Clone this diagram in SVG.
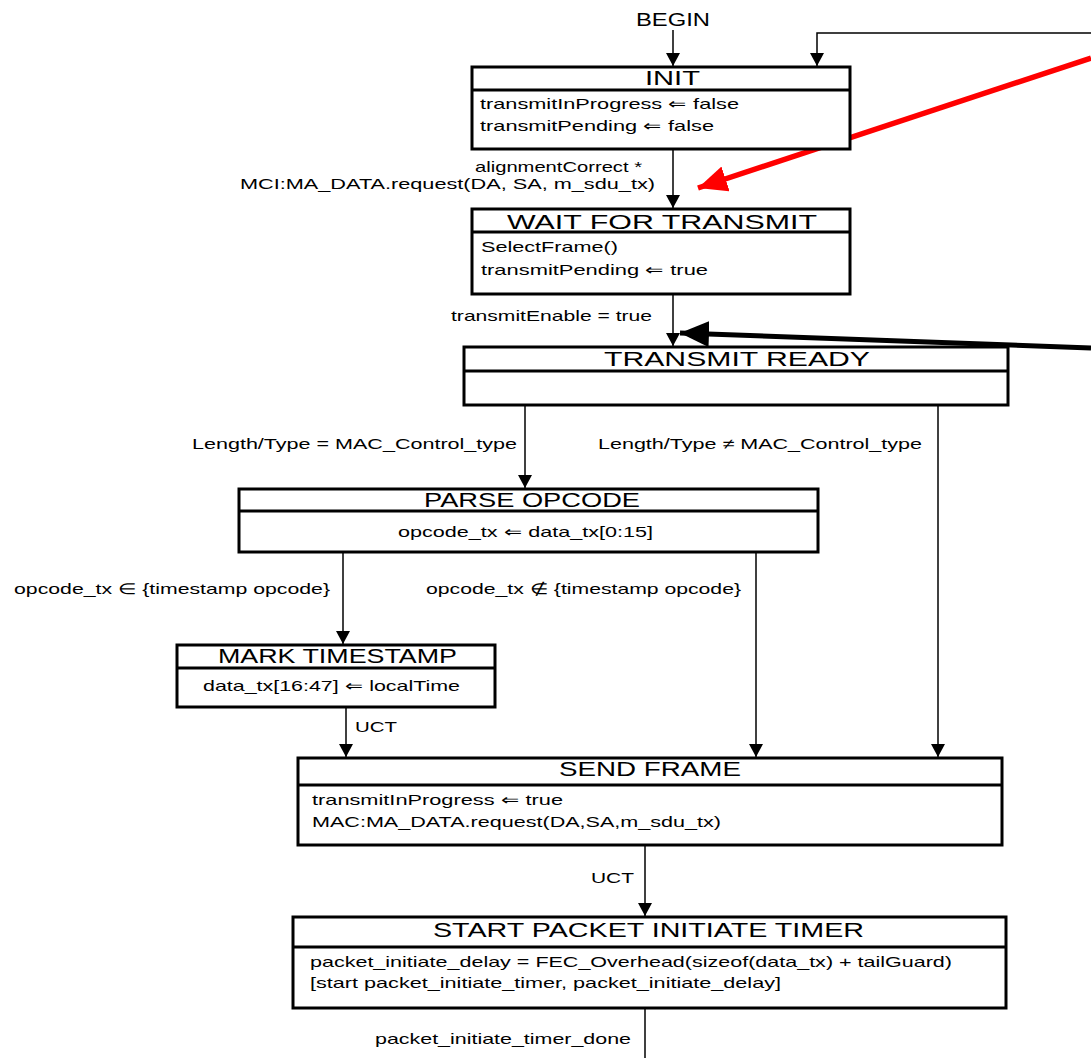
<svg xmlns="http://www.w3.org/2000/svg" width="1091" height="1058" viewBox="0 0 1091 1058">
<style>
text{font-family:"Liberation Sans",Arial,sans-serif;fill:#000}
.t{font-size:20px}
.b{font-size:15px}
.box{fill:#fff;stroke:#000;stroke-width:3}
.div{stroke:#000;stroke-width:3}
.c{fill:none;stroke:#000;stroke-width:1.5}
</style>
<defs>
<marker id="ah" markerUnits="userSpaceOnUse" markerWidth="14" markerHeight="14" refX="13" refY="7" orient="auto">
<path d="M0,0 L13,7 L0,14 Z" fill="#000"/>
</marker>
<marker id="bigk" markerUnits="userSpaceOnUse" markerWidth="30" markerHeight="26" refX="29" refY="13" orient="auto">
<path d="M0,0 L29,13 L0,26 Z" fill="#000"/>
</marker>
<marker id="bigr" markerUnits="userSpaceOnUse" markerWidth="30" markerHeight="26" refX="29" refY="13" orient="auto">
<path d="M0,0 L29,13 L0,26 Z" fill="#f00"/>
</marker>
</defs>
<rect width="1091" height="1058" fill="#fff"/>

<g id="connectors">
<text x="636" y="26" style="font-size:18px" textLength="74" lengthAdjust="spacingAndGlyphs">BEGIN</text>
<path class="c" d="M673,30 V66" marker-end="url(#ah)"/>
<path class="c" d="M1091,33 H817 V66" marker-end="url(#ah)"/>
<path class="c" d="M673,149 V208" marker-end="url(#ah)"/>
<text class="b" x="475" y="172" textLength="167" lengthAdjust="spacingAndGlyphs">alignmentCorrect *</text>
<text class="b" x="240" y="189" textLength="415" lengthAdjust="spacingAndGlyphs">MCI:MA_DATA.request(DA, SA, m_sdu_tx)</text>
<path class="c" d="M673,294 V346" marker-end="url(#ah)"/>
<text class="b" x="451" y="321" textLength="201" lengthAdjust="spacingAndGlyphs">transmitEnable = true</text>
<path class="c" d="M525,405 V488" marker-end="url(#ah)"/>
<text class="b" x="192" y="449" textLength="325" lengthAdjust="spacingAndGlyphs">Length/Type = MAC_Control_type</text>
<path class="c" d="M938,405 V757" marker-end="url(#ah)"/>
<text class="b" x="598" y="449" textLength="324" lengthAdjust="spacingAndGlyphs">Length/Type ≠ MAC_Control_type</text>
<path class="c" d="M343,552 V644" marker-end="url(#ah)"/>
<text class="b" x="14" y="594" textLength="316" lengthAdjust="spacingAndGlyphs">opcode_tx ∈ {timestamp opcode}</text>
<path class="c" d="M756,552 V757" marker-end="url(#ah)"/>
<text class="b" x="426" y="594" textLength="315" lengthAdjust="spacingAndGlyphs">opcode_tx ∉ {timestamp opcode}</text>
<path class="c" d="M346,707 V757" marker-end="url(#ah)"/>
<text class="b" x="355" y="732" textLength="42" lengthAdjust="spacingAndGlyphs">UCT</text>
<path class="c" d="M645,845 V916" marker-end="url(#ah)"/>
<text class="b" x="591" y="883" textLength="43" lengthAdjust="spacingAndGlyphs">UCT</text>
<path class="c" d="M645,1008 V1058"/>
<text class="b" x="375" y="1044" textLength="256" lengthAdjust="spacingAndGlyphs">packet_initiate_timer_done</text>
<path d="M1091,58 L698,188" fill="none" stroke="#f00" stroke-width="5.5" marker-end="url(#bigr)"/>
<path d="M1091,348 L680,333" fill="none" stroke="#000" stroke-width="5" marker-end="url(#bigk)"/>
</g>

<g id="init">
<rect class="box" x="472" y="67" width="378" height="82"/>
<line class="div" x1="472" y1="90" x2="850" y2="90"/>
<text class="t" x="645" y="85" textLength="55" lengthAdjust="spacingAndGlyphs">INIT</text>
<text class="b" x="480" y="109" textLength="259" lengthAdjust="spacingAndGlyphs">transmitInProgress ⇐ false</text>
<text class="b" x="480" y="131" textLength="234" lengthAdjust="spacingAndGlyphs">transmitPending ⇐ false</text>
</g>

<g id="wait">
<rect class="box" x="472" y="209" width="378" height="85"/>
<line class="div" x1="472" y1="232" x2="850" y2="232"/>
<text class="t" x="507" y="229" textLength="310" lengthAdjust="spacingAndGlyphs">WAIT FOR TRANSMIT</text>
<text class="b" x="481" y="252" textLength="137" lengthAdjust="spacingAndGlyphs">SelectFrame()</text>
<text class="b" x="481" y="275" textLength="227" lengthAdjust="spacingAndGlyphs">transmitPending ⇐ true</text>
</g>

<g id="transmitready">
<rect class="box" x="464" y="347" width="544" height="58"/>
<line class="div" x1="464" y1="371" x2="1008" y2="371"/>
<text class="t" x="604" y="366" textLength="266" lengthAdjust="spacingAndGlyphs">TRANSMIT READY</text>
</g>

<g id="parseopcode">
<rect class="box" x="239" y="489" width="579" height="63"/>
<line class="div" x1="239" y1="511" x2="818" y2="511"/>
<text class="t" x="424" y="507" textLength="216" lengthAdjust="spacingAndGlyphs">PARSE OPCODE</text>
<text class="b" x="398" y="537" textLength="255" lengthAdjust="spacingAndGlyphs">opcode_tx ⇐ data_tx[0:15]</text>
</g>

<g id="marktimestamp">
<rect class="box" x="177" y="645" width="318" height="62"/>
<line class="div" x1="177" y1="668" x2="495" y2="668"/>
<text class="t" x="218" y="663" textLength="239" lengthAdjust="spacingAndGlyphs">MARK TIMESTAMP</text>
<text class="b" x="203" y="691" textLength="257" lengthAdjust="spacingAndGlyphs">data_tx[16:47] ⇐ localTime</text>
</g>

<g id="sendframe">
<rect class="box" x="298" y="758" width="704" height="87"/>
<line class="div" x1="298" y1="785" x2="1002" y2="785"/>
<text class="t" x="559" y="776" textLength="182" lengthAdjust="spacingAndGlyphs">SEND FRAME</text>
<text class="b" x="312" y="805" textLength="251" lengthAdjust="spacingAndGlyphs">transmitInProgress ⇐ true</text>
<text class="b" x="312" y="827" textLength="409" lengthAdjust="spacingAndGlyphs">MAC:MA_DATA.request(DA,SA,m_sdu_tx)</text>
</g>

<g id="startpacket">
<rect class="box" x="293" y="917" width="713" height="91"/>
<line class="div" x1="293" y1="947" x2="1006" y2="947"/>
<text class="t" x="433" y="937" textLength="431" lengthAdjust="spacingAndGlyphs">START PACKET INITIATE TIMER</text>
<text class="b" x="310" y="967" textLength="642" lengthAdjust="spacingAndGlyphs">packet_initiate_delay = FEC_Overhead(sizeof(data_tx) + tailGuard)</text>
<text class="b" x="310" y="988" textLength="471" lengthAdjust="spacingAndGlyphs">[start packet_initiate_timer, packet_initiate_delay]</text>
</g>
</svg>
